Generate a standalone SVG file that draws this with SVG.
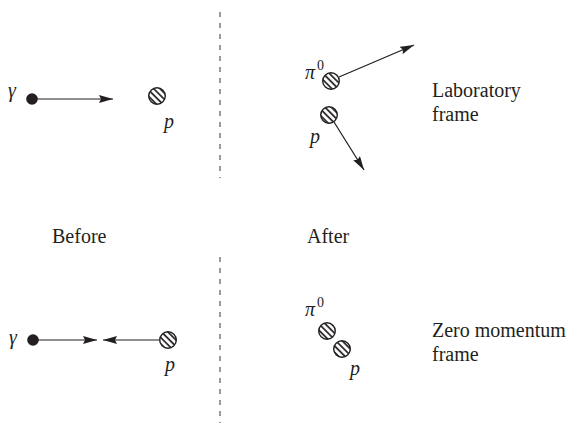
<svg xmlns="http://www.w3.org/2000/svg" width="575" height="423" viewBox="0 0 575 423">
<style>
.t{font-family:'Liberation Serif','Times New Roman',Tinos,'DejaVu Serif',serif;font-size:20px;fill:#231f20}
.i{font-style:italic}
.sup{font-family:'Liberation Serif','Times New Roman',Tinos,'DejaVu Serif',serif;font-size:14px;fill:#231f20}
.ln{stroke:#231f20;stroke-width:1.2;fill:none}
.dash{stroke:#666;stroke-width:1.3;stroke-dasharray:5 6;fill:none}
.h{fill:url(#hatch);stroke:#231f20;stroke-width:1.4}
.dot{fill:#231f20}
</style>
<defs>
<pattern id="hatch" patternUnits="userSpaceOnUse" width="4.5" height="4.5" patternTransform="rotate(-45)">
<rect width="4.5" height="4.5" fill="#fff"/>
<line x1="1" y1="0" x2="1" y2="4.5" stroke="#231f20" stroke-width="1.7"/>
</pattern>
<marker id="arr" markerUnits="userSpaceOnUse" markerWidth="15" markerHeight="8" refX="14" refY="4" orient="auto">
<path d="M0,0 L14,4 L0,8 L2,4 z" fill="#231f20"/>
</marker>
</defs>
<g id="dividers">
<line class="dash" x1="220" y1="12" x2="220" y2="178"/>
<line class="dash" x1="220" y1="257" x2="220" y2="423"/>
</g>
<g id="connectors">
<line class="ln" x1="33" y1="99" x2="113" y2="99" marker-end="url(#arr)"/>
<line class="ln" x1="339" y1="77" x2="414" y2="45" marker-end="url(#arr)"/>
<line class="ln" x1="334" y1="122" x2="364" y2="170" marker-end="url(#arr)"/>
<line class="ln" x1="33" y1="340" x2="97" y2="340" marker-end="url(#arr)"/>
<line class="ln" x1="159" y1="340" x2="103" y2="340" marker-end="url(#arr)"/>
</g>
<g id="gamma-before-lab">
<circle class="dot" cx="32" cy="99" r="5.8"/>
<text class="t i" x="8" y="97">γ</text>
</g>
<g id="p-before-lab">
<circle class="h" cx="157" cy="96" r="8.3"/>
<text class="t i" x="164" y="128">p</text>
</g>
<g id="pi0-after-lab">
<circle class="h" cx="331" cy="81" r="8.3"/>
<text class="t i" x="305" y="79">π</text><text class="sup" x="317" y="70">0</text>
</g>
<g id="p-after-lab">
<circle class="h" cx="329" cy="115" r="8.3"/>
<text class="t i" x="310" y="143">p</text>
</g>
<g id="gamma-before-zm">
<circle class="dot" cx="33" cy="340" r="5.8"/>
<text class="t i" x="9" y="344">γ</text>
</g>
<g id="p-before-zm">
<circle class="h" cx="168" cy="340" r="8.3"/>
<text class="t i" x="165" y="371">p</text>
</g>
<g id="pi0-after-zm">
<circle class="h" cx="327" cy="331" r="8.3"/>
<text class="t i" x="305" y="316">π</text><text class="sup" x="317" y="307">0</text>
</g>
<g id="p-after-zm">
<circle class="h" cx="342" cy="349" r="8.3"/>
<text class="t i" x="350" y="375">p</text>
</g>
<g id="labels">
<text class="t" x="52" y="243">Before</text>
<text class="t" x="307" y="243">After</text>
<text class="t" x="432" y="97">Laboratory</text>
<text class="t" x="432" y="121">frame</text>
<text class="t" x="432" y="337">Zero momentum</text>
<text class="t" x="432" y="361">frame</text>
</g>
</svg>
